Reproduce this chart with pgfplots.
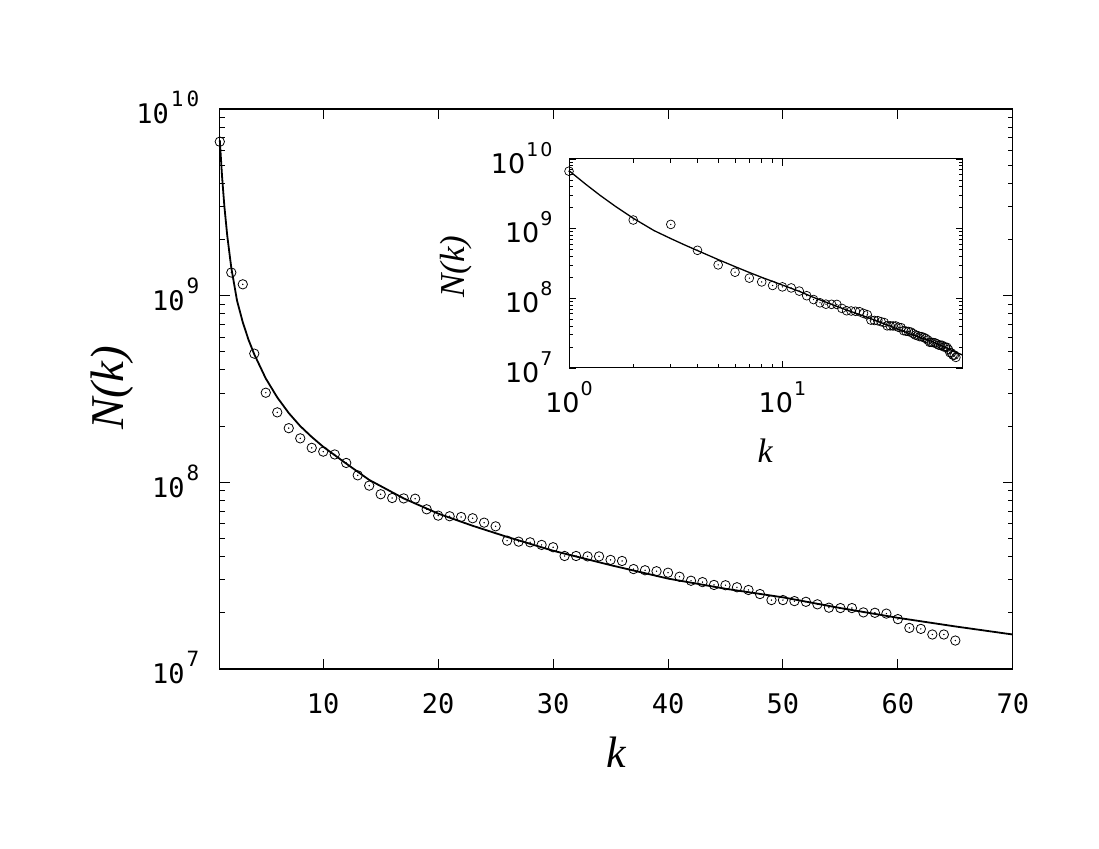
\documentclass[border=0pt]{standalone}
\usepackage{pgfplots}
\pgfplotsset{compat=1.18}
\usepackage{fontspec}
\setmainfont{DejaVu Sans}
\newfontfamily\monof{DejaVu Sans Mono}
\newfontfamily\labf{Liberation Serif}
% main-axis power label: base digits, raised exponent (smashed so the node centres on the base)
\newcommand{\pw}[1]{10\kern2bp\smash{\raisebox{17bp}{\fontsize{21bp}{21bp}\selectfont #1}}}
% inset power label
\newcommand{\ipw}[1]{10\kern1bp\smash{\raisebox{17bp}{\fontsize{19bp}{19bp}\selectfont #1}}}

\begin{document}
\begin{tikzpicture}
\path[use as bounding box] (0,0) rectangle (1099bp,849bp);

\pgfplotsset{
  datapts/.style={only marks, mark=o, mark size=4.7bp, mark options={line width=0.8bp, black}},
  ctrpts/.style={only marks, mark=*, mark size=0.45bp, mark options={black}},
  fitline/.style={black, line width=1.8bp, no markers},
}

\pgfplotstableread{
k N
1 6.68e9
2 1.33e9
3 1.15e9
4 4.89e8
5 3.02e8
6 2.37e8
7 1.95e8
8 1.72e8
9 1.53e8
10 1.46e8
11 1.41e8
12 1.27e8
13 1.09e8
14 9.6e7
15 8.63e7
16 8.24e7
17 8.2e7
18 8.17e7
19 7.17e7
20 6.63e7
21 6.58e7
22 6.52e7
23 6.42e7
24 6.08e7
25 5.81e7
26 4.87e7
27 4.81e7
28 4.77e7
29 4.62e7
30 4.49e7
31 4.03e7
32 4.03e7
33 4.01e7
34 4.01e7
35 3.84e7
36 3.79e7
37 3.43e7
38 3.38e7
39 3.34e7
40 3.28e7
41 3.12e7
42 2.97e7
43 2.92e7
44 2.82e7
45 2.81e7
46 2.74e7
47 2.65e7
48 2.52e7
49 2.34e7
50 2.34e7
51 2.31e7
52 2.29e7
53 2.22e7
54 2.13e7
55 2.12e7
56 2.12e7
57 2.01e7
58 2.0e7
59 1.98e7
60 1.85e7
61 1.66e7
62 1.64e7
63 1.53e7
64 1.53e7
65 1.42e7
}\datatable

\pgfplotstableread{
k N
1 6.8e9
1.2 4.32e9
1.4 3.0e9
1.65 2.09e9
2 1.41e9
2.5 9.4e8
3 7.2e8
3.5 5.8e8
4 4.85e8
5 3.6e8
6 2.85e8
7 2.35e8
8 2.0e8
9 1.75e8
10 1.55e8
12 1.26e8
14 1.03e8
17 8.2e7
20 6.8e7
23 5.85e7
26 5.1e7
30 4.3e7
35 3.6e7
40 3.05e7
45 2.69e7
50 2.42e7
55 2.12e7
60 1.88e7
65 1.69e7
70 1.53e7
}\fittable

% main axis
\begin{axis}[
  at={(219.8bp,180bp)}, anchor=south west,
  scale only axis, width=793bp, height=560bp,
  ymode=log, xmin=1, xmax=70, ymin=1e7, ymax=1e10,
  xtick={10,20,30,40,50,60,70},
  xticklabels={10,20,30,40,50,60,70},
  ytick={1e7,1e8,1e9,1e10},
  yticklabels={\pw{7},\pw{8},\pw{9},\pw{1\kern3bp 0}},
  xticklabel style={font=\fontsize{27bp}{27bp}\selectfont\monof, yshift=-21bp},
  yticklabel style={font=\fontsize{27bp}{27bp}\selectfont\monof, yshift=-5bp, xshift=-17bp},
  axis line style={line width=1.2bp},
  every tick/.style={black, line width=1.0bp},
  major tick length=10bp, minor tick length=5bp,
  tick align=inside,
  xlabel={\labf\itshape k},
  ylabel={\labf\itshape N(k)},
  xlabel style={font=\fontsize{44bp}{44bp}\selectfont, at={(axis description cs:0.5,-0.148)}, anchor=center},
  ylabel style={font=\fontsize{47bp}{47bp}\selectfont, at={(axis description cs:-0.1353,0.502)}, anchor=center},
  clip=false,
]
\addplot[fitline] table[x=k, y=N] {\fittable};
\addplot[datapts] table[x=k, y=N] {\datatable};
\addplot[ctrpts] table[x=k, y=N] {\datatable};
\end{axis}

% inset
\begin{axis}[
  at={(569bp,481bp)}, anchor=south west,
  scale only axis, width=393.7bp, height=209bp,
  xmode=log, ymode=log, xmin=1, xmax=70, ymin=1e7, ymax=1e10,
  xtick={1,10}, xticklabels={\ipw{0},\ipw{1}},
  ytick={1e7,1e8,1e9,1e10},
  yticklabels={\ipw{7},\ipw{8},\ipw{9},\ipw{1\kern2bp 0}},
  xticklabel style={font=\fontsize{27bp}{27bp}\selectfont, yshift=-21bp},
  yticklabel style={font=\fontsize{27bp}{27bp}\selectfont, yshift=-4.5bp, xshift=-13bp},
  axis line style={line width=1.0bp},
  every tick/.style={black, line width=0.8bp},
  major tick length=7bp, minor tick length=4bp,
  tick align=inside,
  xlabel={\labf\itshape k},
  ylabel={\labf\itshape N(k)},
  xlabel style={font=\fontsize{34bp}{34bp}\selectfont, at={(axis description cs:0.498,-0.397)}, anchor=center},
  ylabel style={font=\fontsize{35bp}{35bp}\selectfont, at={(axis description cs:-0.287,0.485)}, anchor=center},
  clip=false,
]
\addplot[fitline, line width=1.3bp] table[x=k, y=N] {\fittable};
\addplot[only marks, mark=o, mark size=4.4bp, mark options={line width=0.7bp, black}] table[x=k, y=N] {\datatable};
\addplot[only marks, mark=*, mark size=0.4bp, mark options={black}] table[x=k, y=N] {\datatable};
\end{axis}
\end{tikzpicture}
\end{document}
